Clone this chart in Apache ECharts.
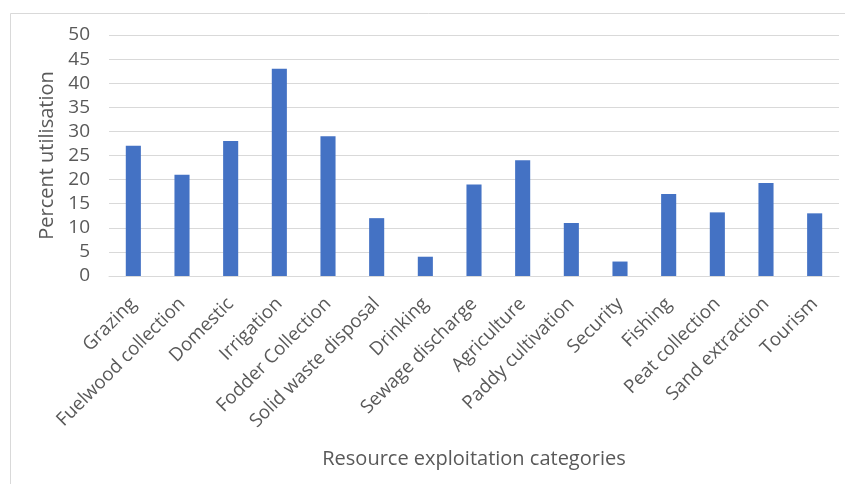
<!DOCTYPE html>
<html>
<head>
<meta charset="utf-8">
<script src="https://cdn.jsdelivr.net/npm/echarts@6/dist/echarts.min.js"></script>
<style>
  html, body { margin: 0; padding: 0; background: #fff; }
  #chart { width: 845px; height: 484px; }
</style>
</head>
<body>
<div id="chart"></div>
<script>
// Resource exploitation categories and their percent utilisation
const categories = [
  'Grazing', 'Fuelwood collection', 'Domestic', 'Irrigation', 'Fodder Collection',
  'Solid waste disposal', 'Drinking', 'Sewage discharge', 'Agriculture',
  'Paddy cultivation', 'Security', 'Fishing', 'Peat collection', 'Sand extraction', 'Tourism'
];
const utilisation = [27, 21, 28, 43, 29, 12, 4, 19, 24, 11, 3, 17, 13.2, 19.3, 13];
const yTicks = { min: 0, max: 50, interval: 5 };

const fontFamily = '"Open Sans", sans-serif';
const textColor = '#595959';

const chart = echarts.init(document.getElementById('chart'), null, { renderer: 'canvas' });
chart.setOption({
  backgroundColor: '#ffffff',
  animation: false,
  graphic: [{
    type: 'rect',
    shape: { x: 10.5, y: 13.5, width: 900, height: 600 },
    style: { fill: 'none', stroke: '#d9d9d9', lineWidth: 1 },
    z: -10
  }],
  grid: { left: 109, right: 6, top: 35, bottom: 208, containLabel: false },
  xAxis: {
    type: 'category',
    data: categories,
    axisLine: { show: true, lineStyle: { color: '#d9d9d9', width: 1 } },
    axisTick: { show: false },
    axisLabel: {
      interval: 0, rotate: 45, color: textColor, fontSize: 18.7, fontFamily, margin: 25
    },
    name: 'Resource exploitation categories',
    nameLocation: 'middle',
    nameGap: 173,
    nameTextStyle: { color: textColor, fontSize: 20, fontFamily }
  },
  yAxis: {
    type: 'value',
    min: yTicks.min, max: yTicks.max, interval: yTicks.interval,
    axisLine: { show: false },
    axisTick: { show: false },
    splitLine: { lineStyle: { color: '#d9d9d9', width: 1 } },
    axisLabel: { color: textColor, fontSize: 19, fontFamily, margin: 19 },
    name: 'Percent utilisation',
    nameLocation: 'middle',
    nameGap: 50,
    nameTextStyle: { color: textColor, fontSize: 20, fontFamily }
  },
  series: [{
    type: 'bar',
    data: utilisation,
    barWidth: '31%',
    itemStyle: { color: '#4472C4' }
  }]
});
</script>
</body>
</html>
